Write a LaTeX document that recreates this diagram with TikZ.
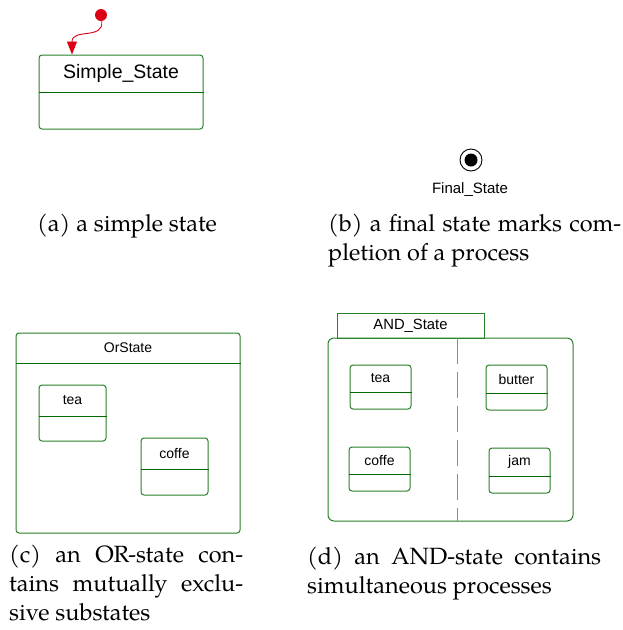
\documentclass[tikz,border=0pt]{standalone}
\usepackage{fontspec}
\setmainfont{TeX Gyre Pagella}
\newfontfamily\arialf{Liberation Sans}
\usetikzlibrary{arrows.meta}
\definecolor{bord}{RGB}{40,128,40}
\definecolor{divc}{RGB}{0,105,0}
\definecolor{initred}{RGB}{220,0,20}
\tikzset{
  sbox/.style={draw=bord, line width=1pt, rounded corners=3pt, inner sep=0pt},
  tabbox/.style={draw=bord, line width=1pt, inner sep=0pt},
  divline/.style={draw=divc, line width=1pt},
  lbl/.style={inner sep=0pt, text=black},
  capt/.style={inner sep=0pt, anchor=north west, align=justify, font=\fontsize{23.5}{29}\selectfont},
  dashsep/.style={draw=bord!70, line width=1pt, dash pattern=on 26pt off 8pt},
}
\newcommand\mystate[8]{%
  \node[sbox, minimum width={#4-#2}, minimum height={#5-#3}] (#1) at ({(#2+#4)/2},{(#3+#5)/2}) {};
  \draw[divline] (#1.west |- 0,#6) -- (#1.east |- 0,#6);
  \node[lbl, font=#8] (#1-l) at ({(#2+#4)/2},{(#3+#6)/2}) {#7};}
\begin{document}
\begin{tikzpicture}[x=1pt,y=-1pt]
\useasboundingbox (0,0) rectangle (623,630);
% (a) simple state
\mystate{simple}{39}{55}{203}{129}{92}{Simple\_State}{\arialf\fontsize{19.5}{21}\selectfont}
\node[circle, fill=initred, minimum size=12pt, inner sep=0pt] (init) at (101,15) {};
\draw[initred, line width=0.9pt, -{Triangle[length=13pt,width=10pt]}] (init) .. controls (104,40) and (72,28) .. ([xshift=-49pt]simple.north);
\node[capt] (capa) at (37,214) {(a) a simple state};
% (b) final state
\node[circle, draw=black, line width=0.9pt, minimum size=22pt, inner sep=0pt] (fs) at (471,160) {};
\node[circle, fill=black, minimum size=13pt, inner sep=0pt] (fsi) at (fs) {};
\node[lbl, font=\arialf\fontsize{15}{17}\selectfont] (fsl) at (470,190) {Final\_State};
\node[capt, text width=293pt] (capb) at (328,214) {(b) a final state marks com-\linebreak pletion of a process};
% (c) OR state
\mystate{orst}{16}{333}{240}{533}{363}{OrState}{\arialf\fontsize{14}{16}\selectfont}
\mystate{ortea}{39}{385}{106}{441}{416}{tea}{\arialf\fontsize{14}{16}\selectfont}
\mystate{orcof}{141}{438}{208}{495}{469}{coffe}{\arialf\fontsize{14}{16}\selectfont}
\node[capt, text width=234pt] (capc) at (9,545) {(c) an OR-state con-\linebreak tains mutually exclu-\linebreak sive substates};
% (d) AND state
\node[tabbox, minimum width=147pt, minimum height=25pt] (andtab) at (410.5,325.5) {};
\node[lbl, font=\arialf\fontsize{14.8}{16}\selectfont] (andtab-l) at (andtab) {AND\_State};
\node[sbox, rounded corners=6pt, minimum width=245pt, minimum height=183pt] (andbox) at (450.5,429.5) {};
\draw[dashsep] ([xshift=6.5pt]andbox.north) -- ([xshift=6.5pt]andbox.south);
\mystate{atea}{350}{365}{411}{409}{392}{tea}{\arialf\fontsize{14}{16}\selectfont}
\mystate{acof}{349}{447}{410}{491}{474}{coffe}{\arialf\fontsize{14}{16}\selectfont}
\mystate{abut}{486}{365}{547}{410}{393}{butter}{\arialf\fontsize{14}{16}\selectfont}
\mystate{ajam}{489}{448}{550}{493}{476}{jam}{\arialf\fontsize{14}{16}\selectfont}
\node[capt, text width=294pt] (capd) at (307,547) {(d) an AND-state contains\linebreak simultaneous processes};
\end{tikzpicture}
\end{document}
